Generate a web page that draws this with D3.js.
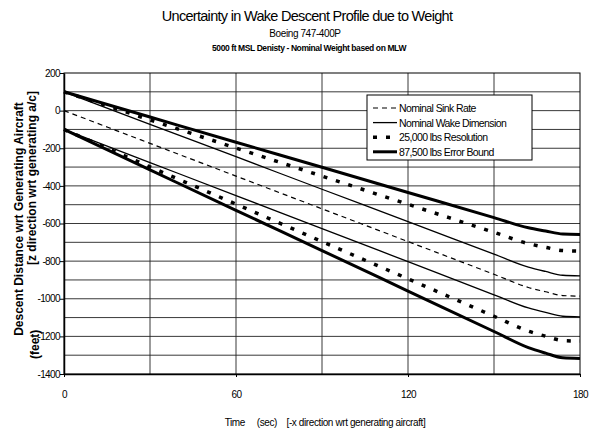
<!DOCTYPE html>
<html>
<head>
<meta charset="utf-8">
<script src="https://cdn.jsdelivr.net/npm/d3@7"></script>
<style>
  body { margin: 0; background: #fff; }
  #chart { width: 591px; height: 430px; }
  text { font-family: "Liberation Sans", Arial, sans-serif; fill: #000; }
</style>
</head>
<body>
<div id="chart"></div>
<script>
// time points (sec) and descent values (feet)
var times = [0, 30, 60, 90, 120, 150, 162, 168, 174, 180];
var sinkNominal = [0, -174, -348, -522, -696, -870, -940, -963, -983, -986];
var wakeUpper = [100, -73, -245, -418, -590, -763, -832, -855, -875, -878];
var wakeLower = [-100, -276, -452, -627, -803, -979, -1049, -1073, -1093, -1096];
var resUpper = [100, -49, -199, -348, -498, -647, -707, -727, -744, -747];
var resLower = [-100, -299, -497, -696, -894, -1093, -1172, -1199, -1222, -1225];
var boundUpper = [100, -34, -168, -301, -435, -569, -623, -640, -656, -658];
var boundLower = [-100, -315, -530, -744, -959, -1174, -1260, -1289, -1314, -1317];

var xTicks = [0, 60, 120, 180];
var xGrid = [30, 60, 90, 120, 150];
var yTicks = [200, 0, -200, -400, -600, -800, -1000, -1200, -1400];
var yGrid = d3.range(100, -1400, -100);

var legendNames = ["Nominal Sink Rate", "Nominal Wake Dimension", "25,000 lbs Resolution", "87,500 lbs Error Bound"];

var styles = {
    sink: {width: 1.2, dash: "5,4"},
    wake: {width: 1.3, dash: null},
    res: {width: 3.5, dash: "4,9"},
    bound: {width: 3, dash: null}
};

var series = [
    {v: sinkNominal, s: "sink"},
    {v: wakeUpper, s: "wake"},
    {v: wakeLower, s: "wake"},
    {v: resUpper, s: "res"},
    {v: resLower, s: "res"},
    {v: boundUpper, s: "bound"},
    {v: boundLower, s: "bound"}
];

var margin = {top: 73, right: 11, bottom: 56, left: 64},
    width = 591 - margin.left - margin.right,
    height = 430 - margin.top - margin.bottom;

var x = d3.scaleLinear().domain([0, 180]).range([0, width]),
    y = d3.scaleLinear().domain([-1400, 200]).range([height, 0]);

var root = d3.select("#chart").append("svg")
    .attr("width", 591)
    .attr("height", 430);

var svg = root.append("g")
    .attr("transform", "translate(" + margin.left + "," + margin.top + ")");

// titles
root.append("text")
    .attr("x", 307).attr("y", 21)
    .attr("text-anchor", "middle")
    .style("font-size", "14.5px")
    .style("letter-spacing", "-0.7px")
    .text("Uncertainty in Wake Descent Profile due to Weight");

root.append("text")
    .attr("x", 305).attr("y", 37)
    .attr("text-anchor", "middle")
    .style("font-size", "10px")
    .style("letter-spacing", "-0.4px")
    .text("Boeing 747-400P");

root.append("text")
    .attr("x", 309).attr("y", 51)
    .attr("text-anchor", "middle")
    .style("font-size", "8.5px")
    .style("font-weight", "bold")
    .style("letter-spacing", "-0.4px")
    .text("5000 ft MSL Denisty - Nominal Weight based on MLW");

// grid
svg.selectAll(".hgrid")
    .data(yGrid)
    .enter().append("line")
    .attr("x1", 0).attr("x2", width)
    .attr("y1", function (d) { return y(d); })
    .attr("y2", function (d) { return y(d); })
    .attr("stroke", "#222")
    .attr("stroke-width", 0.9);

svg.selectAll(".vgrid")
    .data(xGrid)
    .enter().append("line")
    .attr("y1", 0).attr("y2", height)
    .attr("x1", function (d) { return x(d); })
    .attr("x2", function (d) { return x(d); })
    .attr("stroke", "#222")
    .attr("stroke-width", 0.9);

svg.append("rect")
    .attr("width", width)
    .attr("height", height)
    .attr("fill", "none")
    .attr("stroke", "#000")
    .attr("stroke-width", 1);

// axes
var yAxis = svg.append("g")
    .call(d3.axisLeft(y).tickValues(yTicks).tickSize(4).tickSizeOuter(0)
        .tickFormat(function (d) { return String(d); }));
yAxis.select(".domain").attr("stroke-width", 1.5);
yAxis.selectAll("text")
    .style("font-family", "Liberation Sans, Arial, sans-serif")
    .style("font-size", "10px")
    .style("letter-spacing", "-0.6px")
    .attr("x", -4);

var xAxis = svg.append("g")
    .attr("transform", "translate(0," + height + ")")
    .call(d3.axisBottom(x).tickValues(xTicks).tickSize(3).tickSizeOuter(0));
xAxis.select(".domain").attr("stroke-width", 1.5);
xAxis.selectAll("text")
    .style("font-family", "Liberation Sans, Arial, sans-serif")
    .style("font-size", "10px")
    .style("letter-spacing", "-0.6px")
    .attr("y", 17);

// axis titles
root.append("text")
    .attr("x", 325).attr("y", 426)
    .attr("text-anchor", "middle")
    .style("font-size", "10px")
    .style("letter-spacing", "-0.4px")
    .attr("xml:space", "preserve")
    .text("Time     (sec)    [-x direction wrt generating aircraft]");

var yt = root.append("g").attr("transform", "rotate(-90)");
yt.append("text")
    .attr("x", -219).attr("y", 23)
    .attr("text-anchor", "middle")
    .style("font-size", "12px")
    .style("font-weight", "bold")
    .text("Descent Distance wrt Generating Aircraft");
yt.append("text")
    .attr("x", -91).attr("y", 36)
    .attr("text-anchor", "end")
    .style("font-size", "12px")
    .style("font-weight", "bold")
    .text("[z direction wrt generating a/c]");
yt.append("text")
    .attr("x", -359).attr("y", 39)
    .attr("text-anchor", "start")
    .style("font-size", "12px")
    .style("font-weight", "bold")
    .text("(feet)");

// lines
var line = d3.line()
    .x(function (d) { return x(d[0]); })
    .y(function (d) { return y(d[1]); })
    .curve(d3.curveMonotoneX);

svg.selectAll(".series")
    .data(series)
    .enter().append("path")
    .attr("class", "series")
    .attr("fill", "none")
    .attr("stroke", "#000")
    .attr("stroke-width", function (d) { return styles[d.s].width; })
    .attr("stroke-dasharray", function (d) { return styles[d.s].dash; })
    .attr("d", function (d) {
        return line(times.map(function (t, i) { return [t, d.v[i]]; }));
    });

// legend
var legendKeys = ["sink", "wake", "res", "bound"];
var legend = root.append("g").attr("transform", "translate(367,95)");
legend.append("rect")
    .attr("width", 165).attr("height", 65)
    .attr("fill", "#fff")
    .attr("stroke", "#000")
    .attr("stroke-width", 1);

var item = legend.selectAll(".item")
    .data(legendNames)
    .enter().append("g")
    .attr("transform", function (d, i) { return "translate(0," + (13 + i * 14.6) + ")"; });

item.append("line")
    .attr("x1", 6).attr("x2", 30)
    .attr("stroke", "#000")
    .attr("stroke-width", function (d, i) { return styles[legendKeys[i]].width; })
    .attr("stroke-dasharray", function (d, i) { return styles[legendKeys[i]].dash; });

item.append("text")
    .attr("x", 32).attr("y", 4)
    .style("font-size", "10.5px")
    .style("letter-spacing", "-0.6px")
    .text(function (d) { return d; });
</script>
</body>
</html>
